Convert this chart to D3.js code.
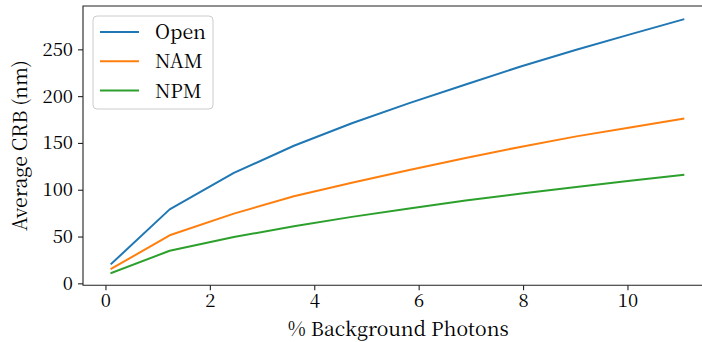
<!DOCTYPE html>
<html>
<head>
<meta charset="utf-8">
<script src="https://cdn.jsdelivr.net/npm/d3@7"></script>
<style>
  html, body { margin: 0; padding: 0; background: #fff; }
  svg { display: block; }
</style>
</head>
<body>
<script>
const xValues = [0.115, 1.23, 2.46, 3.61, 4.72, 5.82, 6.9, 7.97, 9.02, 10.05, 11.07];
const openValues = [21, 79, 118, 147, 171, 192.5, 212.5, 232, 249.5, 266, 282];
const namValues = [15.6, 51.3, 74.5, 93, 107.5, 121, 134, 146, 157, 166.5, 176];
const npmValues = [11, 34.8, 49.5, 61, 71, 80, 88.5, 96, 103, 109.5, 116];
const seriesNames = ["Open", "NAM", "NPM"];
const xTicks = [0, 2, 4, 6, 8, 10];
const yTicks = [0, 50, 100, 150, 200, 250];
const xLabel = "% Background Photons";
const yLabel = "Average CRB (nm)";

const FONT = '"Noto Serif CJK SC", "DejaVu Sans", serif';
const colors = ["#1f77b4", "#ff7f0e", "#2ca02c"];
const W = 702, H = 342;
const mLeft = 83, mTop = 6, mBottom = 285.3, mRight = 713.6;

const svg = d3.select("body").append("svg").attr("width", W).attr("height", H)
  .style("font-family", FONT);

// pick a font size so the x label spans about the reference width
const probe = svg.append("text").style("font-family", FONT).style("font-size", "18px").text(xLabel);
const pw = probe.node().getComputedTextLength();
probe.remove();
let fs = 18 * 222 / pw;
fs = Math.max(16, Math.min(19.5, fs));
const FS = fs + "px";
const TFS = Math.min(fs, 18.5) + "px";

const x = d3.scaleLinear().domain([-0.43, 11.65]).range([mLeft, mRight]);
const y = d3.scaleLinear().domain([-2.1, 296.3]).range([mBottom, mTop]);

const series = [openValues, namValues, npmValues].map((vals, i) => ({
  name: seriesNames[i],
  color: colors[i],
  points: xValues.map((xv, j) => [xv, vals[j]])
}));

const line = d3.line().x(d => x(d[0])).y(d => y(d[1]));

svg.append("g").selectAll("path").data(series).join("path")
  .attr("d", d => line(d.points))
  .attr("fill", "none")
  .attr("stroke", d => d.color)
  .attr("stroke-width", 2)
  .attr("stroke-linejoin", "round")
  .attr("stroke-linecap", "square");

// spines
svg.append("path")
  .attr("d", `M${mLeft},${mBottom}V${mTop}H${mRight}V${mBottom}Z`)
  .attr("fill", "none").attr("stroke", "#222").attr("stroke-width", 1.1);

// axes
const xAxis = d3.axisBottom(x).tickValues(xTicks).tickSize(5).tickPadding(4).tickFormat(d3.format("d"));
const gx = svg.append("g").attr("transform", `translate(0,${mBottom})`).call(xAxis);
gx.attr("font-family", null).attr("font-size", null);
gx.select(".domain").remove();
gx.selectAll("line").attr("stroke", "#222").attr("stroke-width", 1.1);
gx.selectAll("text").style("font-family", FONT).style("font-size", TFS).attr("fill", "#000");

const yAxis = d3.axisLeft(y).tickValues(yTicks).tickSize(5).tickPadding(5).tickFormat(d3.format("d"));
const gy = svg.append("g").attr("transform", `translate(${mLeft},0)`).call(yAxis);
gy.attr("font-family", null).attr("font-size", null);
gy.select(".domain").remove();
gy.selectAll("line").attr("stroke", "#222").attr("stroke-width", 1.1);
gy.selectAll("text").style("font-family", FONT).style("font-size", TFS).attr("fill", "#000");

// axis labels
svg.append("text")
  .attr("x", (mLeft + mRight) / 2).attr("y", 336)
  .attr("text-anchor", "middle")
  .attr("fill", "#000")
  .style("font-family", FONT)
  .style("font-size", FS)
  .text(xLabel);

svg.append("text")
  .attr("transform", `translate(27,${(mTop + mBottom) / 2}) rotate(-90)`)
  .attr("text-anchor", "middle")
  .attr("fill", "#000")
  .style("font-family", FONT)
  .style("font-size", FS)
  .text(yLabel);

// legend
const lg = svg.append("g");
lg.append("rect")
  .attr("x", 93).attr("y", 16).attr("width", 120).attr("height", 93)
  .attr("rx", 4).attr("ry", 4)
  .attr("fill", "#fff").attr("fill-opacity", 0.8)
  .attr("stroke", "#cccccc").attr("stroke-width", 1);
const items = lg.selectAll("g.item").data(series).join("g")
  .attr("class", "item")
  .attr("transform", (d, i) => `translate(0,${32 + i * 29.3})`);
items.append("line")
  .attr("x1", 100).attr("x2", 139).attr("y1", 0).attr("y2", 0)
  .attr("stroke", d => d.color).attr("stroke-width", 2);
items.append("text")
  .attr("x", 155).attr("y", 7)
  .attr("fill", "#000")
  .style("font-family", FONT)
  .style("font-size", FS)
  .text(d => d.name);
</script>
</body>
</html>
